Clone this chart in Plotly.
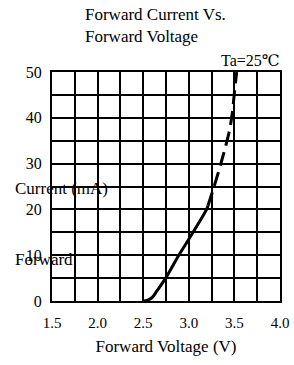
import plotly.graph_objects as go

# Solid part of the curve (V, mA)
v_solid = [2.50, 2.55, 2.60, 2.65, 2.75, 2.89, 3.00, 3.195, 3.21]
i_solid = [0.0, 0.2, 0.8, 2.2, 5.1, 10.0, 13.5, 20.0, 20.8]
# Dashed part of the curve
v_dash = [3.21, 3.27, 3.33, 3.40, 3.45, 3.48, 3.50, 3.525]
i_dash = [20.8, 24.5, 28.5, 33.5, 37.6, 41.5, 45.5, 50.0]

x_ticks = [1.5, 2.0, 2.5, 3.0, 3.5, 4.0]
x_tick_text = ["1.5", "2.0", "2.5", "3.0", "3.5", "4.0"]
y_ticks = [0, 10, 20, 30, 40, 50]

FONT = "'Times New Roman', 'Liberation Serif', 'DejaVu Serif', serif"

L, R, T, B, W, H = 52, 14, 72, 64, 294, 365
pw, ph = W - L - R, H - T - B


def px(x):
    return (x - L) / pw


def py(y):
    return (H - B - y) / ph


fig = go.Figure()
fig.add_trace(go.Scatter(x=v_solid, y=i_solid, mode="lines",
                         line=dict(color="black", width=3, shape="spline", smoothing=1),
                         showlegend=False, hoverinfo="skip"))
fig.add_trace(go.Scatter(x=v_dash, y=i_dash, mode="lines",
                         line=dict(color="black", width=3, dash="14px,7px", shape="spline", smoothing=0.6),
                         showlegend=False, hoverinfo="skip"))


def ann(text, x, y, anchor, size):
    return dict(text=text, x=px(x), y=py(y), xref="paper", yref="paper",
                showarrow=False, xanchor=anchor, yanchor="middle",
                font=dict(size=size, family=FONT, color="black"))


fig.update_layout(
    width=W, height=H,
    margin=dict(l=L, r=R, t=T, b=B, autoexpand=False),
    paper_bgcolor="white", plot_bgcolor="white",
    font=dict(family=FONT, size=14, color="black"),
    showlegend=False,
    xaxis=dict(range=[1.5, 4.0], tickmode="array", tickvals=x_ticks, ticktext=x_tick_text,
               showgrid=True, gridcolor="black", gridwidth=2,
               minor=dict(tickvals=[1.75, 2.25, 2.75, 3.25, 3.75], showgrid=True,
                          gridcolor="black", gridwidth=2),
               showline=True, linecolor="black", linewidth=2, mirror=True,
               zeroline=False, ticks="", ticklabelstandoff=7, automargin=False,
               tickfont=dict(size=15, family=FONT),
               title=dict(text="Forward Voltage (V)", font=dict(size=17, family=FONT), standoff=10)),
    yaxis=dict(range=[0, 50], tickmode="array", tickvals=y_ticks,
               showgrid=True, gridcolor="black", gridwidth=2,
               minor=dict(tickvals=[5, 15, 25, 35, 45], showgrid=True,
                          gridcolor="black", gridwidth=2),
               showline=True, linecolor="black", linewidth=2, mirror=True,
               zeroline=False, ticks="", ticklabelstandoff=5, automargin=False,
               tickfont=dict(size=16, family=FONT)),
    annotations=[
        ann("Forward Current Vs.", 83, 14, "left", 17),
        ann("Forward Voltage", 83, 37, "left", 17),
        ann("Ta=25℃", 282, 60, "right", 16),
        ann("Current (mA)", 13, 188, "left", 17),
        ann("Forward", 13, 259, "left", 17),
    ],
)

fig.write_html("out.html", config={"displayModeBar": False},
               post_script="document.body.style.margin='0';")
